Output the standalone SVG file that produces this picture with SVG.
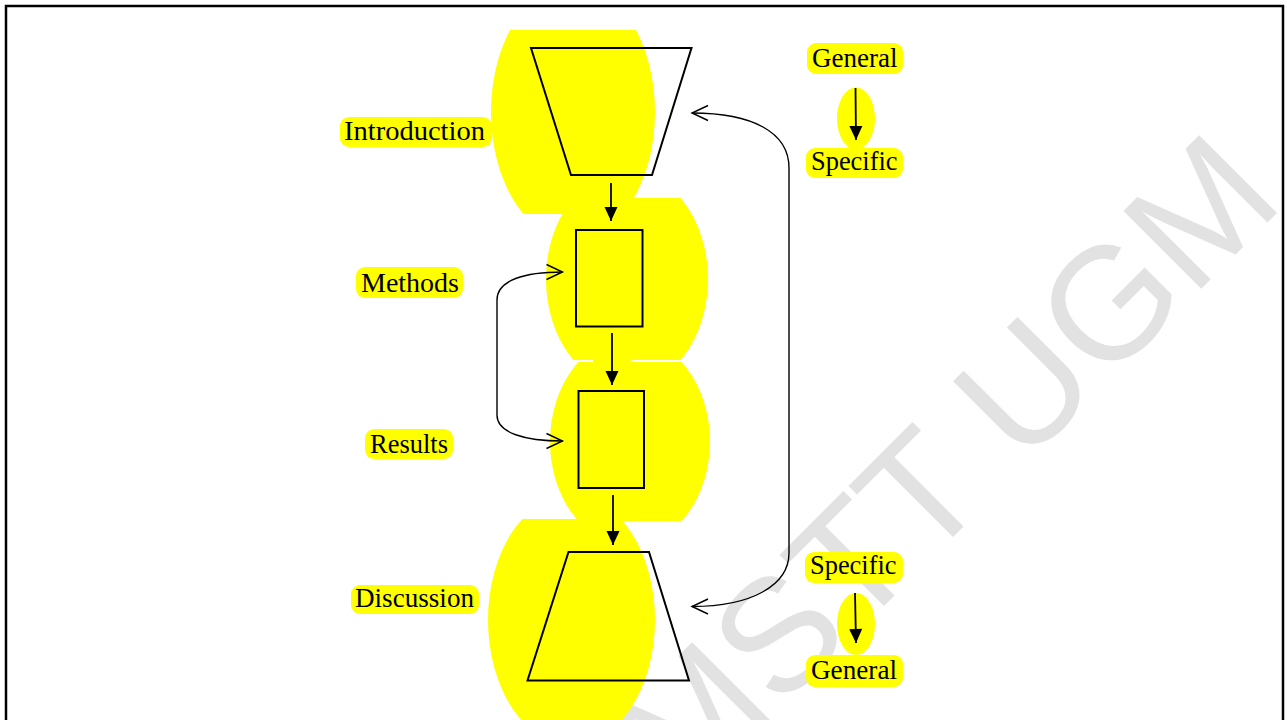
<svg xmlns="http://www.w3.org/2000/svg" width="1287" height="720" viewBox="0 0 1287 720">
  <style>
    .hl { fill: #ffff00; }
    .shape { fill: none; stroke: #000; stroke-width: 2; stroke-linejoin: miter; }
    .lbl { font-family: "Liberation Serif", "Times New Roman", serif; font-size: 27px; fill: #000; }
    .flow { fill: none; stroke: #000; stroke-width: 1.8; }
    .loop { fill: none; stroke: #000; stroke-width: 1.4; }
    .wm { font-family: "Liberation Sans", Arial, sans-serif; font-size: 160px; fill: #e2e2e2; }
  </style>
  <defs>
    <marker id="head-solid" markerUnits="userSpaceOnUse" markerWidth="14" markerHeight="13" refX="14" refY="6.5" orient="auto" overflow="visible">
      <path d="M0,0 L14,6.5 L0,13 Z" fill="#000"/>
    </marker>
    <marker id="head-open" markerUnits="userSpaceOnUse" markerWidth="16" markerHeight="15" refX="16" refY="7.5" orient="auto-start-reverse" overflow="visible">
      <path d="M0,0 L16,7.5 L0,15" fill="none" stroke="#000" stroke-width="1.4"/>
    </marker>
    <clipPath id="clip-frame"><rect x="7" y="7" width="1275" height="720"/></clipPath>
    <clipPath id="clip-intro"><rect x="470" y="30" width="220" height="184"/></clipPath>
    <clipPath id="clip-methods"><rect x="530" y="198" width="200" height="162"/></clipPath>
    <clipPath id="clip-results"><rect x="530" y="362" width="200" height="159"/></clipPath>
    <clipPath id="clip-discussion"><rect x="470" y="519" width="220" height="201"/></clipPath>
  </defs>

  <!-- page background and frame -->
  <rect x="0" y="0" width="1287" height="720" fill="#fff"/>
  <rect x="6" y="6" width="1277" height="740" fill="none" stroke="#000" stroke-width="2.5"/>

  <!-- watermark -->
  <g clip-path="url(#clip-frame)">
    <text class="wm" transform="translate(685,805) rotate(-45)">MSTT UGM</text>
  </g>

  <!-- highlight bridge between Methods and Results -->
  <rect class="hl" x="593" y="355" width="38" height="12"/>

  <g id="introduction">
    <ellipse class="hl" cx="573" cy="112" rx="82" ry="128" clip-path="url(#clip-intro)"/>
    <rect class="hl" x="340" y="117" width="152" height="30" rx="9"/>
    <text class="lbl" x="344" y="139.5" textLength="141" lengthAdjust="spacingAndGlyphs">Introduction</text>
    <polygon class="shape" points="531,48 691.5,48 652,175 571,175"/>
  </g>

  <g id="methods">
    <ellipse class="hl" cx="627" cy="279" rx="81" ry="108" clip-path="url(#clip-methods)"/>
    <rect class="hl" x="356" y="267" width="107" height="31" rx="9"/>
    <text class="lbl" x="361" y="291.5" textLength="98" lengthAdjust="spacingAndGlyphs">Methods</text>
    <rect class="shape" x="576" y="230" width="66.5" height="96.5"/>
  </g>

  <g id="results">
    <ellipse class="hl" cx="630" cy="441.5" rx="80" ry="104" clip-path="url(#clip-results)"/>
    <rect class="hl" x="365" y="429" width="88" height="30" rx="9"/>
    <text class="lbl" x="370" y="452.5" textLength="78" lengthAdjust="spacingAndGlyphs">Results</text>
    <rect class="shape" x="578.5" y="391" width="65.5" height="97"/>
  </g>

  <g id="discussion">
    <ellipse class="hl" cx="571.5" cy="620" rx="83.5" ry="125" clip-path="url(#clip-discussion)"/>
    <rect class="hl" x="351" y="585" width="128" height="29" rx="9"/>
    <text class="lbl" x="355" y="607" textLength="119" lengthAdjust="spacingAndGlyphs">Discussion</text>
    <polygon class="shape" points="568.5,552 649,552 689,680.5 527.5,680.5"/>
  </g>

  <g id="general-to-specific">
    <ellipse class="hl" cx="856" cy="118.5" rx="19" ry="31"/>
    <rect class="hl" x="807" y="43" width="96" height="31" rx="9"/>
    <text class="lbl" x="812" y="67" textLength="85.5" lengthAdjust="spacingAndGlyphs">General</text>
    <rect class="hl" x="806" y="148" width="97" height="30" rx="9"/>
    <text class="lbl" x="811" y="170" textLength="86.5" lengthAdjust="spacingAndGlyphs">Specific</text>
  </g>

  <g id="specific-to-general">
    <ellipse class="hl" cx="856" cy="624" rx="19" ry="31"/>
    <rect class="hl" x="805" y="552" width="98" height="31" rx="9"/>
    <text class="lbl" x="810" y="573.5" textLength="86.5" lengthAdjust="spacingAndGlyphs">Specific</text>
    <rect class="hl" x="806" y="655" width="97" height="32" rx="9"/>
    <text class="lbl" x="811" y="679" textLength="86" lengthAdjust="spacingAndGlyphs">General</text>
  </g>

  <g id="connectors">
    <!-- main flow -->
    <line class="flow" x1="611" y1="183" x2="611" y2="221" marker-end="url(#head-solid)"/>
    <line class="flow" x1="612" y1="333" x2="612" y2="385" marker-end="url(#head-solid)"/>
    <line class="flow" x1="613" y1="495" x2="613" y2="545" marker-end="url(#head-solid)"/>
    <!-- direction arrows beside the side labels -->
    <line class="flow" x1="855.5" y1="88" x2="856" y2="140" marker-end="url(#head-solid)"/>
    <line class="flow" x1="855" y1="593" x2="856" y2="643" marker-end="url(#head-solid)"/>
    <!-- Methods / Results loop -->
    <path class="loop" d="M562.5,272 C525,272 497,280 497,300 L497,415 C497,433 525,441 562.5,441" marker-start="url(#head-open)" marker-end="url(#head-open)"/>
    <!-- Introduction / Discussion loop -->
    <path class="loop" d="M692,113 C752,113 789,132 789,168 L789,553 C789,585 752,606.5 692,606.5" marker-start="url(#head-open)" marker-end="url(#head-open)"/>
  </g>
</svg>
